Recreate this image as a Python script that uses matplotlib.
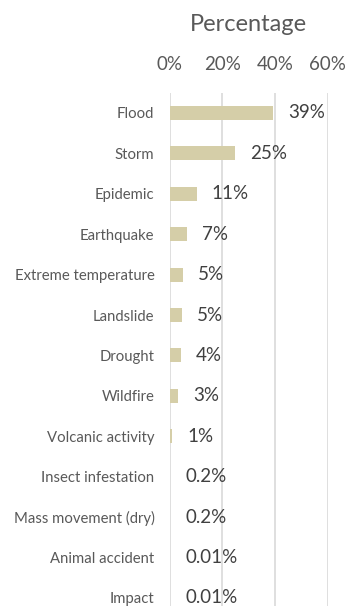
import matplotlib
matplotlib.use("Agg")
import matplotlib.pyplot as plt

# Share of disasters by type
categories = ["Flood", "Storm", "Epidemic", "Earthquake", "Extreme temperature",
              "Landslide", "Drought", "Wildfire", "Volcanic activity",
              "Insect infestation", "Mass movement (dry)", "Animal accident", "Impact"]
values = [39.1, 24.9, 10.2, 6.4, 5.0, 4.6, 4.1, 3.0, 1.0, 0.2, 0.2, 0.01, 0.01]
value_labels = ["39%", "25%", "11%", "7%", "5%", "5%", "4%", "3%", "1%",
                "0.2%", "0.2%", "0.01%", "0.01%"]
xticks = [0, 20, 40, 60]

plt.rcParams['font.family'] = ['Lato', 'DejaVu Sans']

fig = plt.figure(figsize=(3.5, 6.06), dpi=100)
ax = fig.add_axes([0.485, -0.02, 0.451, 0.867])

y = list(range(len(categories)))
ax.barh(y, values, height=0.35, color='#D5CEA8', zorder=2)

for yi, v, lab in zip(y, values, value_labels):
    ax.annotate(lab, (v, yi), xytext=(11, 0), textcoords='offset points',
                va='center', ha='left', fontsize=13.5, color='#404040')

ax.set_xlim(0, 60)
ax.set_ylim(len(categories) - 0.5, -0.5)
ax.set_xticks(xticks)
ax.set_xticklabels([f"{t}%" for t in xticks], fontsize=13.5, color='#595959')
ax.xaxis.tick_top()
ax.xaxis.set_label_position('top')
ax.set_xlabel("Percentage", fontsize=17, color='#595959', labelpad=18)
ax.set_yticks(y)
ax.set_yticklabels(categories, fontsize=10.7, color='#595959')

ax.tick_params(axis='both', length=0)
ax.tick_params(axis='x', pad=14)
ax.tick_params(axis='y', pad=11)
ax.grid(axis='x', color='#D9D9D9', linewidth=1.2, zorder=0)
for s in ax.spines.values():
    s.set_visible(False)

fig.savefig("out.png", dpi=100)
